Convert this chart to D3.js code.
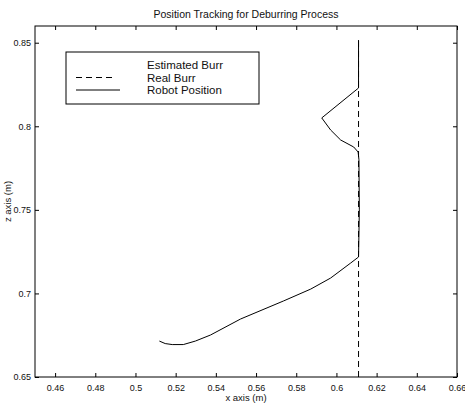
<!DOCTYPE html>
<html>
<head>
<meta charset="utf-8">
<script src="https://cdn.jsdelivr.net/npm/d3@7"></script>
<style>
  body { margin: 0; background: #fff; }
  text { font-family: "Liberation Sans", Arial, sans-serif; fill: #111; }
</style>
</head>
<body>
<div id="chart"></div>
<script>
// data
var robotX = [0.5119, 0.5148, 0.5183, 0.5238, 0.5298, 0.5373, 0.5523, 0.5737, 0.5872, 0.5971, 0.6071, 0.6110,
              0.6114, 0.6112, 0.6108, 0.6086, 0.6021, 0.5971, 0.5927, 0.6110, 0.6110];
var robotZ = [0.6715, 0.6700, 0.6694, 0.6694, 0.6715, 0.6751, 0.6847, 0.6955, 0.7026, 0.7092, 0.7182, 0.7218,
              0.7500, 0.7800, 0.7846, 0.7876, 0.7918, 0.7978, 0.8050, 0.8229, 0.8516];
var realBurrX = [0.611, 0.611];
var realBurrZ = [0.65, 0.8516];
var xTicks = [0.46, 0.48, 0.5, 0.52, 0.54, 0.56, 0.58, 0.6, 0.62, 0.64, 0.66];
var yTicks = [0.65, 0.7, 0.75, 0.8, 0.85];
var legendLabels = ['Estimated Burr', 'Real Burr', 'Robot Position'];

const W = 465, H = 405;
const margin = {left: 35, right: 8, top: 26, bottom: 28};

var svg = d3.select('#chart').append('svg')
            .attr('width', W)
            .attr('height', H);

var x = d3.scaleLinear().domain([0.45, 0.66]).range([margin.left, W - margin.right]);
var y = d3.scaleLinear().domain([0.65, 0.86]).range([H - margin.bottom, margin.top]);

// frame
svg.append('rect')
   .attr('x', x(0.45)).attr('y', y(0.86))
   .attr('width', x(0.66) - x(0.45))
   .attr('height', y(0.65) - y(0.86))
   .attr('fill', 'none').attr('stroke', '#000').attr('stroke-width', 1);

// axes, ticks pointing inwards
function fmt(d) { return d3.format('')(+d.toFixed(2)); }

var xAxis = svg.append('g')
   .attr('transform', 'translate(0,' + y(0.65) + ')')
   .call(d3.axisBottom(x).tickValues(xTicks).tickSizeInner(-4).tickSizeOuter(0).tickPadding(8).tickFormat(fmt));
var xAxisTop = svg.append('g')
   .attr('transform', 'translate(0,' + y(0.86) + ')')
   .call(d3.axisTop(x).tickValues(xTicks).tickSizeInner(-4).tickSizeOuter(0).tickFormat(''));
var yAxis = svg.append('g')
   .attr('transform', 'translate(' + x(0.45) + ',0)')
   .call(d3.axisLeft(y).tickValues(yTicks).tickSizeInner(-4).tickSizeOuter(0).tickPadding(4).tickFormat(fmt));
var yAxisRight = svg.append('g')
   .attr('transform', 'translate(' + x(0.66) + ',0)')
   .call(d3.axisRight(y).tickValues(yTicks).tickSizeInner(-4).tickSizeOuter(0).tickFormat(''));

[xAxis, xAxisTop, yAxis, yAxisRight].forEach(function (g) {
  g.select('.domain').remove();
  g.selectAll('line').attr('stroke', '#000');
  g.selectAll('text').style('font-family', '"Liberation Sans", Arial, sans-serif')
   .style('font-size', '9px').attr('fill', '#111');
});

// lines
var line = d3.line().x(d => x(d[0])).y(d => y(d[1]));

svg.append('path')
   .datum(d3.zip(realBurrX, realBurrZ))
   .attr('d', line)
   .attr('fill', 'none').attr('stroke', '#000').attr('stroke-width', 1)
   .attr('stroke-dasharray', '6,4');

svg.append('path')
   .datum(d3.zip(robotX, robotZ))
   .attr('d', line)
   .attr('fill', 'none').attr('stroke', '#000').attr('stroke-width', 1);

// titles
svg.append('text')
   .attr('x', (x(0.45) + x(0.66)) / 2).attr('y', 18)
   .attr('text-anchor', 'middle').style('font-size', '10.5px')
   .text('Position Tracking for Deburring Process');

svg.append('text')
   .attr('x', (x(0.45) + x(0.66)) / 2).attr('y', 401)
   .attr('text-anchor', 'middle').style('font-size', '9.5px')
   .text('x axis (m)');

svg.append('text')
   .attr('transform', 'translate(11,' + (y(0.65) + y(0.86)) / 2 + ') rotate(-90)')
   .attr('text-anchor', 'middle').style('font-size', '9.5px')
   .text('z axis (m)');

// legend
var legend = svg.append('g').attr('transform', 'translate(66,52)');
legend.append('rect')
      .attr('width', 193).attr('height', 52)
      .attr('fill', '#fff').attr('stroke', '#000').attr('stroke-width', 1);

var rows = legend.selectAll('g.row').data(legendLabels)
                 .enter()
                 .append('g')
                 .classed('row', true)
                 .attr('transform', (d, i) => 'translate(0,' + (13 + i * 12.5) + ')');

rows.append('text')
    .attr('x', 81).attr('y', 4)
    .style('font-size', '11.5px')
    .text(d => d);

rows.filter((d, i) => i === 1).append('line')
    .attr('x1', 10).attr('x2', 46).attr('y1', 0).attr('y2', 0)
    .attr('stroke', '#000').attr('stroke-dasharray', '6,4');
rows.filter((d, i) => i === 2).append('line')
    .attr('x1', 10).attr('x2', 54).attr('y1', 0).attr('y2', 0)
    .attr('stroke', '#000');
</script>
</body>
</html>
